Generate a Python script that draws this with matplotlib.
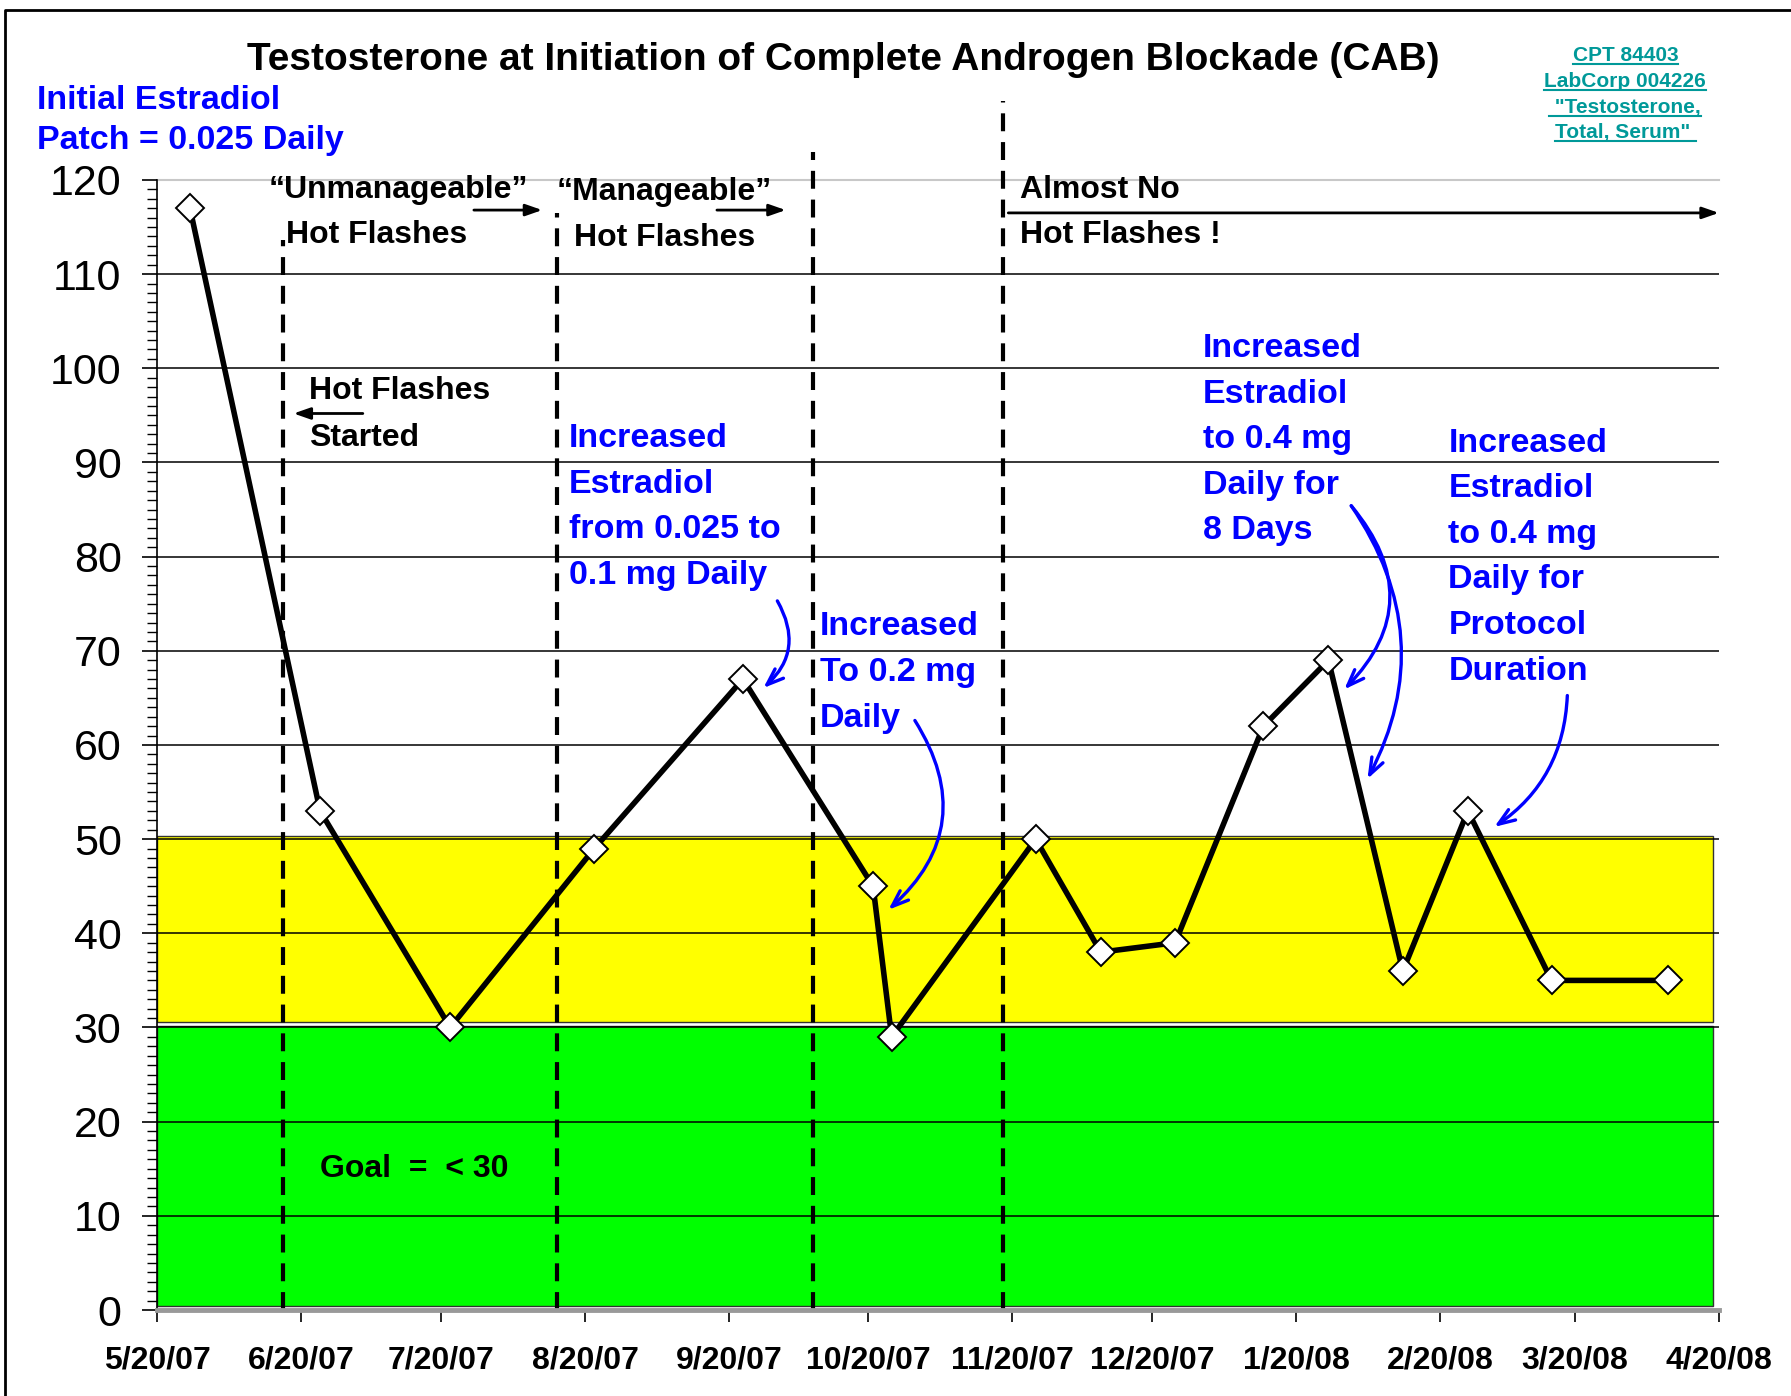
import datetime as dt
import matplotlib
matplotlib.use('Agg')
import matplotlib.pyplot as plt
import matplotlib.dates as mdates
from matplotlib.lines import Line2D
from matplotlib.ticker import MultipleLocator

plt.rcParams['font.family'] = ['Liberation Sans', 'DejaVu Sans']

# testosterone results (ng/dL)
test_dates = ['2007-05-27', '2007-06-24', '2007-07-22', '2007-08-22', '2007-09-23',
              '2007-10-21', '2007-10-25', '2007-11-25', '2007-12-09', '2007-12-25',
              '2008-01-13', '2008-01-27', '2008-02-12', '2008-02-26', '2008-03-15',
              '2008-04-09']
testosterone = [117, 53, 30, 49, 67, 45, 29, 50, 38, 39, 62, 69, 36, 53, 35, 35]

# hot flash phase boundaries (dashed lines) and how high each line goes
phase_dates = ['2007-06-16', '2007-08-14', '2007-10-08', '2007-11-18']
phase_tops = [113.6, 116.5, 123, 128.4]

date_ticks = ['5/20/07', '6/20/07', '7/20/07', '8/20/07', '9/20/07', '10/20/07',
              '11/20/07', '12/20/07', '1/20/08', '2/20/08', '3/20/08', '4/20/08']
y_ticks = list(range(0, 121, 10))

goal_limit = 30
upper_limit = 50

start = dt.datetime(2007, 5, 20)
end = dt.datetime(2008, 4, 20)


def at(days):
    # x position as days after the first tick
    return mdates.date2num(start) + days


BLUE = '#0000ff'
TEAL = '#009999'

fig = plt.figure(figsize=(17.91, 13.96), dpi=100)
ax = fig.add_axes([0.0879, 0.0616, 0.8718, 0.8095])

x = [dt.datetime.strptime(d, '%Y-%m-%d') for d in test_dates]

# coloured target zones
ax.axhspan(0.4, goal_limit + 0.2, xmax=0.9964, facecolor='#00ff00',
           edgecolor='#333333', lw=1, zorder=0)
ax.axhspan(goal_limit + 0.6, upper_limit + 0.3, xmax=0.9964, facecolor='#ffff00',
           edgecolor='#333333', lw=1, zorder=0)

# horizontal grid
for v in y_ticks[1:-1]:
    ax.axhline(v, color='black', lw=1.1, zorder=1)
ax.axhline(y_ticks[-1], color='#c8c8c8', lw=1.5, zorder=1, clip_on=False)

# phase lines
for d, top in zip(phase_dates, phase_tops):
    xd = dt.datetime.strptime(d, '%Y-%m-%d')
    ax.plot([xd, xd], [0, top], color='black', lw=3, dashes=(4.3, 2.6),
            clip_on=False, zorder=2)

# data
ax.plot(x, testosterone, color='black', lw=4, marker='D', ms=14,
        mfc='white', mec='black', mew=1.4, zorder=4, clip_on=False)

ax.set_xlim(start, end)
ax.set_ylim(0, 120)
ax.set_xticks([dt.datetime.strptime(t, '%m/%d/%y') for t in date_ticks])
ax.set_xticklabels(date_ticks, fontsize=23, fontweight='bold')
ax.set_yticks(y_ticks)
ax.set_yticklabels([str(v) for v in y_ticks], fontsize=31)
ax.yaxis.set_minor_locator(MultipleLocator(1))
ax.tick_params(axis='x', direction='out', length=8.6, width=1.2, pad=17)
ax.tick_params(axis='y', which='major', direction='out', length=10.8, width=1.2, pad=15)
ax.tick_params(axis='y', which='minor', direction='out', length=7.2, width=1.0)
for s in ['top', 'right']:
    ax.spines[s].set_visible(False)
ax.spines['bottom'].set_color('#999999')
ax.spines['bottom'].set_linewidth(3.5)
ax.spines['left'].set_linewidth(1.2)


def label(txt, days, y, color='black', size=23):
    ax.text(at(days), y - 0.35, txt, ha='left', va='center', fontsize=size,
            fontweight='bold', color=color, clip_on=False, zorder=5)


def black_arrow(x0, x1, y):
    ax.annotate('', xy=(at(x1), y), xytext=(at(x0), y), annotation_clip=False,
                arrowprops=dict(arrowstyle='-|>,head_length=1.0,head_width=0.35',
                                color='black', lw=2, shrinkA=0, shrinkB=0))


def blue_arrow(x0, y0, x1, y1, rad):
    ax.annotate('', xy=(at(x1), y1), xytext=(at(x0), y0), annotation_clip=False,
                arrowprops=dict(arrowstyle='->,head_length=1.2,head_width=0.45',
                                color=BLUE, lw=2.4, shrinkA=0, shrinkB=0,
                                connectionstyle='arc3,rad=%s' % rad), zorder=5)


# hot flash phases
label('\u201cUnmanageable\u201d', 23.9, 119.3)
label('Hot Flashes', 27.6, 114.5)
black_arrow(68.1, 82.8, 116.8)
label('\u201cManageable\u201d', 86.0, 119.1)
label('Hot Flashes', 89.7, 114.2)
black_arrow(120.4, 135.2, 116.8)
label('Almost No', 185.6, 119.3)
label('Hot Flashes !', 185.6, 114.5)
black_arrow(183.1, 336, 116.5)
label('Hot Flashes', 32.7, 97.9)
label('Started', 32.7, 93.0)
black_arrow(44.2, 29.3, 95.2)
label('Goal  =  < 30', 34.9, 15.3)

# estradiol dose changes
for txt, y in zip(['Increased', 'Estradiol', 'from 0.025 to', '0.1 mg Daily'],
                  [92.9, 88.0, 83.2, 78.3]):
    label(txt, 88.5, y, BLUE, 24.5)
blue_arrow(133.4, 75.3, 130.4, 66.05, -0.4)

for txt, y in zip(['Increased', 'To 0.2 mg', 'Daily'], [72.9, 68.0, 63.2]):
    label(txt, 142.6, y, BLUE, 24.5)
blue_arrow(163.0, 62.6, 157.3, 42.5, -0.42)

for txt, y in zip(['Increased', 'Estradiol', 'to 0.4 mg', 'Daily for', '8 Days'],
                  [102.5, 97.6, 92.8, 87.9, 83.1]):
    label(txt, 224.9, y, BLUE, 24.5)
blue_arrow(256.9, 85.4, 255.4, 65.9, -0.45)
blue_arrow(256.9, 85.4, 260.4, 56.4, -0.3)

for txt, y in zip(['Increased', 'Estradiol', 'to 0.4 mg', 'Daily for', 'Protocol', 'Duration'],
                  [92.4, 87.6, 82.7, 77.9, 73.0, 68.2]):
    label(txt, 277.8, y, BLUE, 24.5)
blue_arrow(303.4, 65.25, 287.7, 51.3, -0.25)

# titles
fig.text(0.471, 0.957, 'Testosterone at Initiation of Complete Androgen Blockade (CAB)',
         ha='center', va='center', fontsize=28, fontweight='bold')
fig.text(0.0204, 0.928, 'Initial Estradiol', ha='left', va='center',
         fontsize=24.5, fontweight='bold', color=BLUE)
fig.text(0.0204, 0.8993, 'Patch = 0.025 Daily', ha='left', va='center',
         fontsize=24.5, fontweight='bold', color=BLUE)

ref_lines = ['CPT 84403', 'LabCorp 004226', ' "Testosterone,', 'Total, Serum" ']
ref_y = [0.9563, 0.9375, 0.9188, 0.9009]
ref_texts = [fig.text(0.9075, y, t, ha='center', va='baseline', fontsize=15,
                      fontweight='bold', color=TEAL)
             for t, y in zip(ref_lines, ref_y)]

# outer frame (left and top edges)
fig.add_artist(Line2D([0.003, 0.003, 1.0], [0.0, 0.9928, 0.9928],
                      transform=fig.transFigure, color='black', lw=2))

# underline the reference text
fig.canvas.draw()
W, H = fig.bbox.width, fig.bbox.height
for t, y in zip(ref_texts, ref_y):
    bb = t.get_window_extent()
    yy = (y * H - 3) / H
    fig.add_artist(Line2D([bb.x0 / W, bb.x1 / W], [yy, yy],
                          transform=fig.transFigure, color=TEAL, lw=1.5))

fig.savefig('out.png', dpi=100)
